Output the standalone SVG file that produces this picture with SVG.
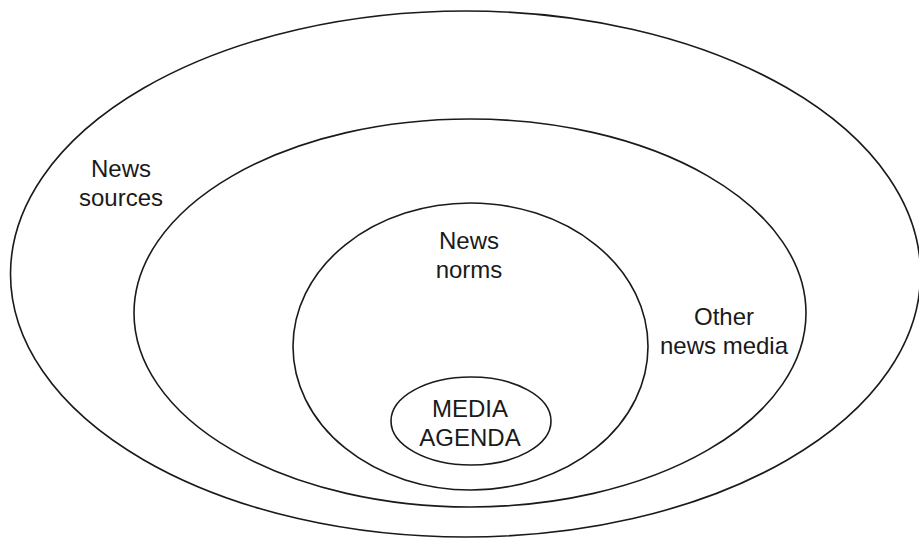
<svg xmlns="http://www.w3.org/2000/svg" width="919" height="539" viewBox="0 0 919 539">
<style>
.ring{fill:none;stroke:#1a1a1a;stroke-width:1.6}
.lbl{font-family:"Liberation Sans",Arial,sans-serif;font-size:24px;fill:#1a1a1a;text-anchor:middle}
</style>
<rect width="919" height="539" fill="#fff"/>
<g id="news-sources">
<ellipse class="ring" cx="465.5" cy="274" rx="455" ry="263"/>
<text class="lbl" x="121" y="177">News</text>
<text class="lbl" x="121" y="206">sources</text>
</g>
<g id="other-news-media">
<ellipse class="ring" cx="470" cy="313" rx="336" ry="194"/>
<text class="lbl" x="724" y="325">Other</text>
<text class="lbl" x="724" y="354">news media</text>
</g>
<g id="news-norms">
<ellipse class="ring" cx="470.5" cy="346.5" rx="177.5" ry="143.5"/>
<text class="lbl" x="469" y="249">News</text>
<text class="lbl" x="469" y="278">norms</text>
</g>
<g id="media-agenda">
<ellipse class="ring" cx="471" cy="421" rx="80" ry="44"/>
<text class="lbl" x="470" y="417">MEDIA</text>
<text class="lbl" x="470" y="446">AGENDA</text>
</g>
<g id="connectors"/>
</svg>
